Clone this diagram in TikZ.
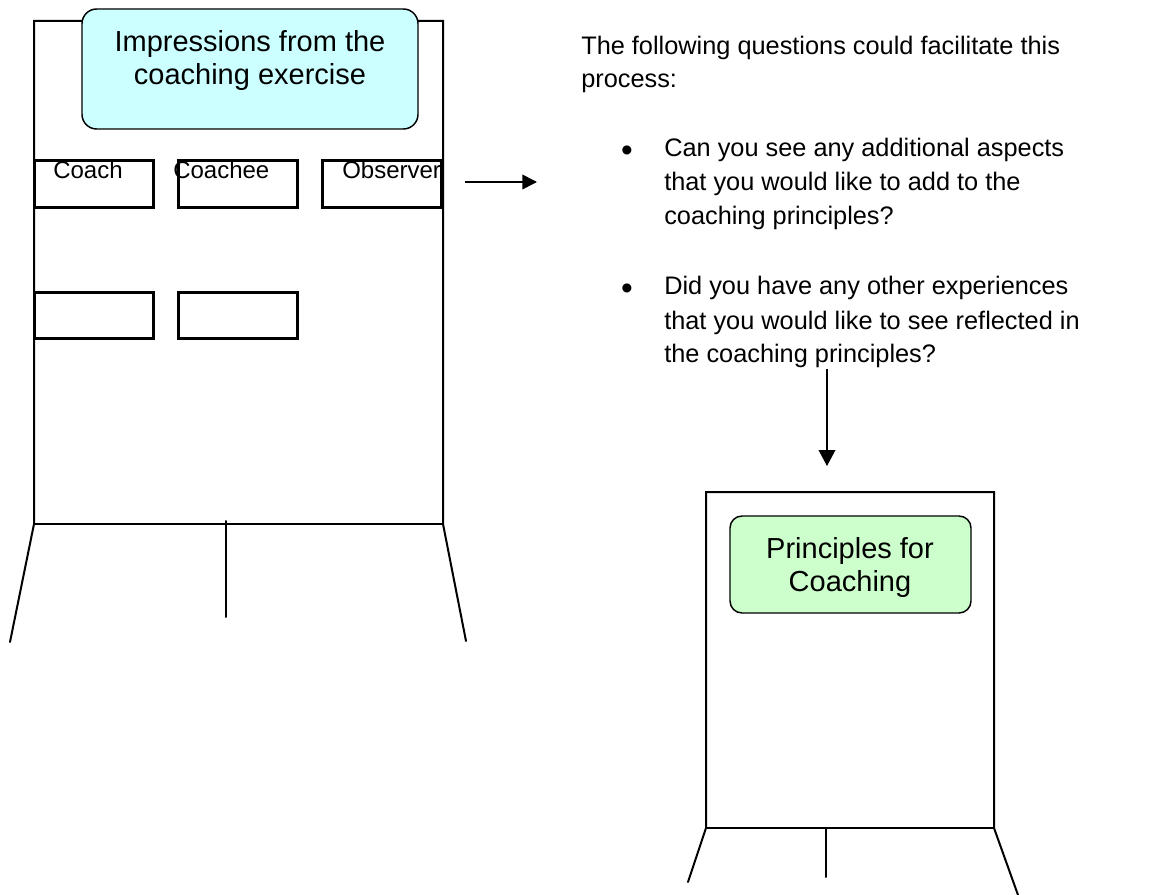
\documentclass[tikz,border=0pt]{standalone}
\usepackage{fontspec}
\setmainfont{Liberation Sans}
\usetikzlibrary{arrows.meta}
\definecolor{boxcyan}{HTML}{CCFFFF}
\definecolor{boxgreen}{HTML}{CCFFCC}
\begin{document}
\begin{tikzpicture}[x=0.75pt,y=-0.75pt,
  frameline/.style={line width=1.5pt, line cap=round},
  slot/.style={draw, line width=2.3pt, minimum width=89pt, minimum height=35pt, inner sep=0pt},
  titlebox/.style={draw, line width=1.1pt, rounded corners=11pt, inner sep=0pt},
  boxtext/.style={font=\fontsize{21.75pt}{24.75pt}\selectfont, anchor=base, inner sep=0pt},
  maintext/.style={font=\fontsize{19pt}{24.75pt}\selectfont, anchor=base west, inner sep=0pt},
  bullettext/.style={font=\fontsize{25pt}{28pt}\selectfont, anchor=base, inner sep=0pt},
  slottext/.style={font=\fontsize{18pt}{21pt}\selectfont, anchor=base west, inner sep=0pt},
  connector/.style={line width=1.2pt, -{Triangle[length=11pt,width=11pt]}}]
\path[use as bounding box] (0,0) rectangle (1168,895);

% left flipchart
\draw[frameline] (10,642) -- (34,524) -- (34,21) -- (443,21) -- (443,524) -- (466,641);
\draw[frameline] (34,524) -- (443,524);
\draw[frameline] (226,521) -- (226,617);

% title box
\node[titlebox, fill=boxcyan, minimum width=252pt, minimum height=90pt] (imp) at (250,69) {};
\node[boxtext] (impA) at (250,52) {Impressions from the};
\node[boxtext] (impB) at (250,85) {coaching exercise};

% slots
\node[slot] (coach) at (94.15,184.3) {};
\node[slot, minimum width=89.25pt] (coachee) at (238,184.3) {};
\node[slot, minimum width=89.6pt] (observer) at (382.25,184.3) {};
\node[slot, minimum height=34.5pt] (slotA) at (94.15,315.5) {};
\node[slot, minimum width=89.25pt, minimum height=34.5pt] (slotB) at (238,315.5) {};
\node[slottext] (coachL) at (53,179) {Coach};
\node[slottext] (coacheeL) at (173,179) {Coachee};
\node[slottext] (observerL) at (342,179) {Observer};

% right arrow
\coordinate (arrA) at (465,182);
\coordinate (arrB) at (537,182);
\draw[connector] (arrA) -- (arrB);

% questions text
\node[maintext] (q1) at (581,55) {The following questions could facilitate this};
\node[maintext] (q2) at (581,88) {process:};
\node[bullettext] (b1) at (627,162) {•};
\node[maintext] (t1a) at (664,157) {Can you see any additional aspects};
\node[maintext] (t1b) at (664,191) {that you would like to add to the};
\node[maintext] (t1c) at (664,224) {coaching principles?};
\node[bullettext] (b2) at (627,300) {•};
\node[maintext] (t2a) at (664,295) {Did you have any other experiences};
\node[maintext] (t2b) at (664,329) {that you would like to see reflected in};
\node[maintext] (t2c) at (664,362) {the coaching principles?};

% down arrow
\coordinate (downA) at (827,369);
\coordinate (downB) at (827,466);
\draw[connector, -{Triangle[length=12pt,width=12.5pt]}] (downA) -- (downB);

% right flipchart
\draw[frameline] (688,882) -- (706,828) -- (706,492) -- (994,492) -- (994,828) -- (1018,895);
\draw[frameline] (706,828) -- (994,828);
\draw[frameline] (826,828) -- (826,877);

\node[titlebox, fill=boxgreen, rounded corners=9pt, minimum width=180.75pt, minimum height=72.75pt] (princ) at (850.5,564.5) {};
\node[boxtext] (princA) at (850,558) {Principles for};
\node[boxtext] (princB) at (850,591) {Coaching};
\end{tikzpicture}
\end{document}
